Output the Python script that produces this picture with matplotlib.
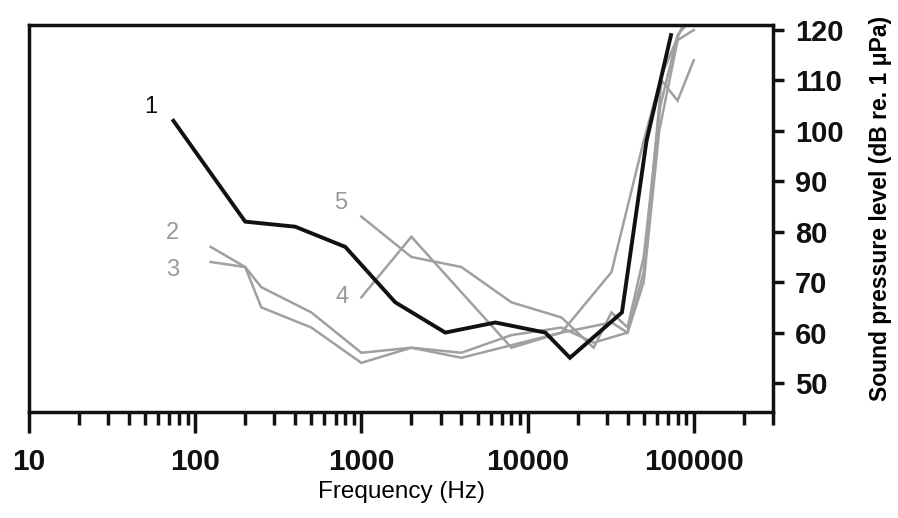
import numpy as np
import matplotlib.pyplot as plt
from matplotlib.ticker import FixedLocator, LogLocator, NullFormatter, FuncFormatter

plt.rcParams['font.family'] = ['Liberation Sans', 'DejaVu Sans']

# audiograms, frequency in Hz, threshold in dB re 1 uPa
f1 = [74, 200, 400, 800, 1600, 3200, 6400, 12800, 18000, 37000, 52000, 73000]
v1 = [102, 82, 81, 77, 66, 60, 62, 60, 55, 64, 98, 119]

f2 = [124, 200, 250, 500, 1000, 2000, 4000, 8000, 16000, 25000, 40000, 50000, 64000, 80000, 100000]
v2 = [77, 73, 69, 64, 56, 57, 56, 59.5, 61, 58, 60, 72, 110, 106, 114]

f3 = [124, 200, 250, 500, 1000, 2000, 4000, 8000, 16000, 32000, 40000, 50000, 62000, 80000, 100000]
v3 = [74, 73, 65, 61, 54, 57, 55, 57.5, 60, 62, 60, 70, 100, 118, 120]

f4 = [1000, 2000, 8000, 16000, 32000, 50000, 64000, 86000]
v4 = [67, 79, 57, 60, 72, 98, 111, 121]

f5 = [1000, 2000, 4000, 8000, 16000, 25000, 32000, 40000, 50000, 63000, 80000, 90000]
v5 = [83, 75, 73, 66, 63, 57, 64, 61, 75, 105, 119, 121]

grey_series = [(f2, v2), (f3, v3), (f4, v4), (f5, v5)]

# label text positions (freq, level)
labels = ['1', '2', '3', '4', '5']
label_pos = [(54, 104.7), (73, 79.7), (73, 72.4), (770, 67), (750, 85.7)]
label_col = ['#111111', '#999999', '#999999', '#999999', '#999999']

GREY = '#a0a0a0'

fig = plt.figure(figsize=(8.98, 5.18), dpi=100)
ax = fig.add_axes([29 / 898, 1 - 412 / 518, 744 / 898, 387 / 518])

for f, v in grey_series:
    ax.plot(f, v, color=GREY, lw=1.8, solid_joinstyle='miter')
ax.plot(f1, v1, color='#111111', lw=2.8, solid_joinstyle='miter', zorder=3)

for t, (x, y), c in zip(labels, label_pos, label_col):
    ax.text(x, y, t, color=c, fontsize=17, ha='center', va='center')

ax.set_xscale('log')
ax.set_xlim(10, 3e5)
ax.set_ylim(44.25, 121)

ax.xaxis.set_major_locator(FixedLocator([10, 100, 1000, 10000, 100000]))
ax.xaxis.set_major_formatter(FuncFormatter(lambda x, p: f'{int(round(x))}'))
ax.xaxis.set_minor_locator(LogLocator(base=10, subs=np.arange(2, 10), numticks=20))
ax.xaxis.set_minor_formatter(NullFormatter())

ax.set_yticks([50, 60, 70, 80, 90, 100, 110, 120])
ax.yaxis.tick_right()

for s in ax.spines.values():
    s.set_linewidth(2.5)
    s.set_color('#111111')

ax.tick_params(axis='x', which='major', direction='out', length=15, width=2.5,
               pad=11, colors='#111111')
ax.tick_params(axis='x', which='minor', direction='out', length=9, width=2.5, colors='#111111')
ax.tick_params(axis='y', which='major', direction='out', length=8, width=2.5,
               pad=8, colors='#111111', right=True, left=False)
for lab in ax.get_xticklabels():
    lab.set_fontweight('bold')
    lab.set_fontsize(21.5)
for lab in ax.get_yticklabels():
    lab.set_fontweight('bold')
    lab.set_fontsize(21)

fig.text(401 / 898, 1 - 492 / 518, 'Frequency (Hz)', fontsize=17.5, ha='center', va='center')
fig.text(880 / 898, 1 - 208 / 518, 'Sound pressure level (dB re. 1 μPa)', fontsize=16.5,
         fontweight='bold', rotation=90, ha='center', va='center')

fig.savefig('out.png', dpi=100)
